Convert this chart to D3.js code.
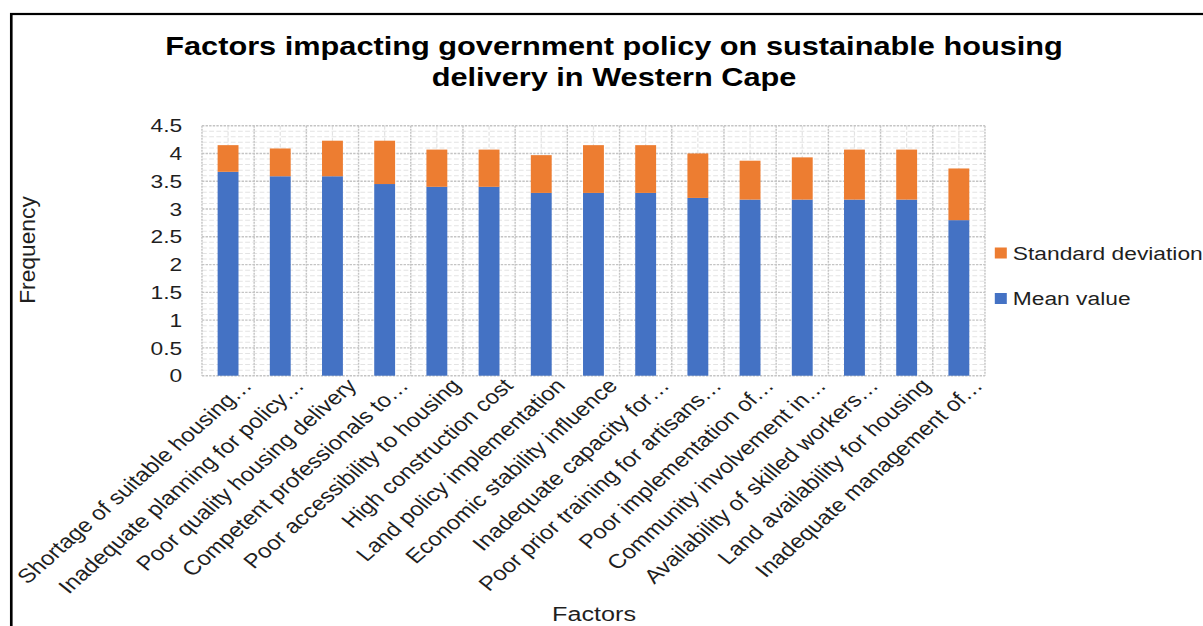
<!DOCTYPE html>
<html>
<head>
<meta charset="utf-8">
<script src="https://cdn.jsdelivr.net/npm/d3@7"></script>
<style>
  html, body { margin: 0; padding: 0; background: #fff; }
  svg { display: block; font-family: Arial, "Liberation Sans", sans-serif; }
</style>
</head>
<body>
<svg id="chart" width="1203" height="626"></svg>
<script>
// Factor names (category axis)
const categories = [
  "Shortage of suitable housing…",
  "Inadequate planning for policy…",
  "Poor quality housing delivery",
  "Competent professionals to…",
  "Poor accessibility to housing",
  "High construction cost",
  "Land policy implementation",
  "Economic stability influence",
  "Inadequate capacity for…",
  "Poor prior training for artisans…",
  "Poor implementation of…",
  "Community involvement in…",
  "Availability of skilled workers…",
  "Land availability for housing",
  "Inadequate management of…"
];

// Series values
const meanValues = [3.67, 3.59, 3.59, 3.45, 3.40, 3.40, 3.29, 3.29, 3.29, 3.20, 3.17, 3.17, 3.17, 3.17, 2.80];
const sdValues   = [0.48, 0.50, 0.64, 0.78, 0.67, 0.67, 0.68, 0.86, 0.86, 0.80, 0.70, 0.76, 0.90, 0.90, 0.93];

// Axis ticks
const yTicks = [0, 0.5, 1, 1.5, 2, 2.5, 3, 3.5, 4, 4.5];
const yMinorTicks = d3.range(0, 4.5001, 0.1);

const seriesNames = ["Mean value", "Standard deviation"];
const seriesColors = ["#4472C4", "#ED7D31"];

const title = ["Factors impacting government policy on sustainable housing", "delivery in Western Cape"];
const yTitle = "Frequency";
const xTitle = "Factors";

// The whole drawing is laid out in a horizontally condensed space and widened.
const SX = 1.2;
const svg = d3.select("#chart");
const root = svg.append("g").attr("transform", `scale(${SX},1)`);

const textColor = "#1f1f1f";

// Outer chart frame
root.append("rect")
  .attr("x", 9.4).attr("y", 14)
  .attr("width", 1200).attr("height", 800)
  .attr("fill", "none").attr("stroke", "#000").attr("stroke-width", 2.2);

const plot = { left: 168.3, right: 820.8, top: 125.7, bottom: 375.7 };

const x = d3.scaleBand()
  .domain(categories)
  .range([plot.left, plot.right])
  .paddingInner(0.6)
  .paddingOuter(0.3);

const y = d3.scaleLinear().domain([0, 4.5]).range([plot.bottom, plot.top]);

const step = x.step();
const boundaries = d3.range(categories.length + 1).map(i => plot.left + i * step);

// Minor gridlines
const minor = root.append("g");
minor.selectAll("line.hm")
  .data(yMinorTicks.filter(v => Math.abs(v * 2 - Math.round(v * 2)) > 1e-6))
  .join("line")
  .attr("x1", plot.left).attr("x2", plot.right)
  .attr("y1", d => y(d)).attr("y2", d => y(d))
  .attr("stroke", "#e3e3e3").attr("stroke-width", 1).attr("stroke-dasharray", "4,2");
minor.selectAll("line.vm")
  .data(categories)
  .join("line")
  .attr("x1", d => x(d) + x.bandwidth() / 2).attr("x2", d => x(d) + x.bandwidth() / 2)
  .attr("y1", plot.top).attr("y2", plot.bottom)
  .attr("stroke", "#e3e3e3").attr("stroke-width", 1).attr("stroke-dasharray", "4,2");

// Major gridlines
const major = root.append("g");
major.selectAll("line.h")
  .data(yTicks)
  .join("line")
  .attr("x1", plot.left).attr("x2", plot.right)
  .attr("y1", d => y(d)).attr("y2", d => y(d))
  .attr("stroke", "#c4c4c4").attr("stroke-width", 1.4).attr("stroke-dasharray", "2,1");
major.selectAll("line.v")
  .data(boundaries)
  .join("line")
  .attr("x1", d => d).attr("x2", d => d)
  .attr("y1", plot.top).attr("y2", plot.bottom)
  .attr("stroke", "#c4c4c4").attr("stroke-width", 1.2).attr("stroke-dasharray", "2,1");

// Stacked bars
const rows = categories.map((c, i) => ({ cat: c, mean: meanValues[i], sd: sdValues[i] }));
const stacked = d3.stack().keys(["mean", "sd"])(rows);

root.append("g").selectAll("g")
  .data(stacked)
  .join("g")
  .attr("fill", (d, i) => seriesColors[i])
  .selectAll("rect")
  .data(d => d)
  .join("rect")
  .attr("x", d => x(d.data.cat))
  .attr("width", x.bandwidth())
  .attr("y", d => y(d[1]))
  .attr("height", d => y(d[0]) - y(d[1]));

// Y axis labels
const yAxis = d3.axisLeft(y).tickValues(yTicks).tickSize(0).tickPadding(0).tickFormat(d3.format("~g"));
const yg = root.append("g").attr("transform", `translate(${plot.left - 16.5},0)`).call(yAxis);
yg.select(".domain").remove();
yg.selectAll("text").attr("font-size", 19).attr("fill", textColor).attr("font-family", "Arial, 'Liberation Sans', sans-serif");

// Category labels, rotated
root.append("g").selectAll("text")
  .data(categories)
  .join("text")
  .attr("transform", d => `translate(${x(d) + x.bandwidth() / 2 + 21},${plot.bottom + 11}) rotate(-46.5)`)
  .attr("text-anchor", "end")
  .attr("font-size", 20)
  .attr("fill", textColor)
  .text(d => d);

// Chart title
root.append("text")
  .attr("x", 511.7).attr("y", 55)
  .attr("text-anchor", "middle")
  .attr("font-size", 25.6).attr("font-weight", "bold").attr("fill", "#000")
  .selectAll("tspan")
  .data(title)
  .join("tspan")
  .attr("x", 511.7)
  .attr("dy", (d, i) => i === 0 ? 0 : 31.5)
  .text(d => d);

// Axis titles
root.append("text")
  .attr("transform", `translate(29.5,250) rotate(-90) scale(1.2,1)`)
  .attr("text-anchor", "middle")
  .attr("font-size", 19).attr("fill", textColor)
  .text(yTitle);

root.append("text")
  .attr("x", 495).attr("y", 621)
  .attr("text-anchor", "middle")
  .attr("font-size", 21).attr("fill", textColor)
  .text(xTitle);

// Legend (stacked order: top series listed first)
const legendItems = [1, 0];
const legend = root.append("g").selectAll("g")
  .data(legendItems)
  .join("g")
  .attr("transform", (d, i) => `translate(829,${253 + i * 45.5})`);
legend.append("rect")
  .attr("x", 0).attr("y", -5.5).attr("width", 10).attr("height", 11)
  .attr("fill", d => seriesColors[d]);
legend.append("text")
  .attr("x", 15).attr("y", 0).attr("dy", "0.35em")
  .attr("font-size", 19).attr("fill", textColor)
  .text(d => seriesNames[d]);
</script>
</body>
</html>
